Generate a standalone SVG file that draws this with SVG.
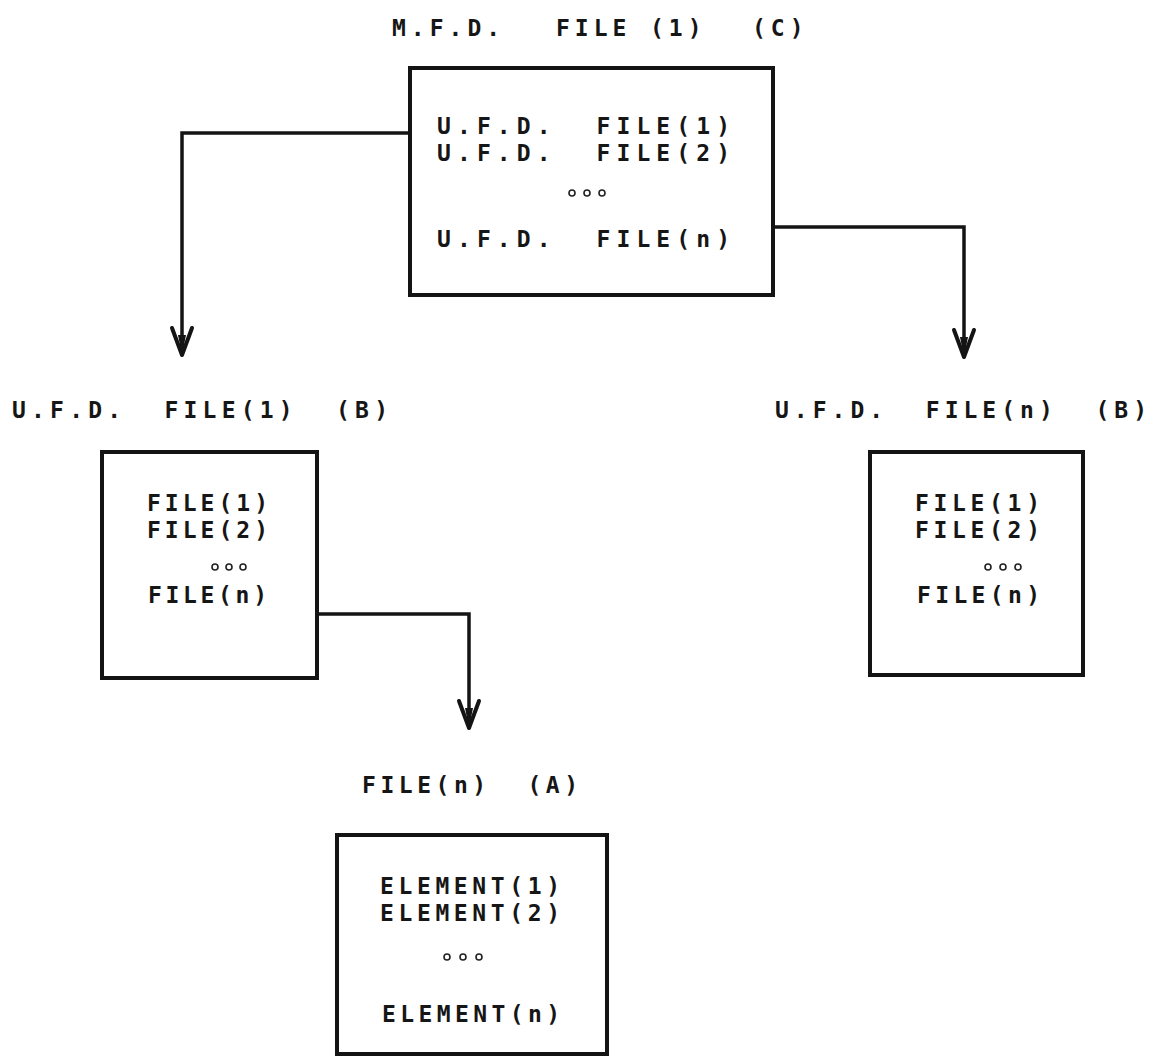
<svg xmlns="http://www.w3.org/2000/svg" width="1165" height="1057" viewBox="0 0 1165 1057">
  <style>
    .bg { fill: #ffffff; }
    .box { fill: none; stroke: #141414; stroke-width: 4; }
    .lbl { font-family: "DejaVu Sans Mono", "Liberation Mono", monospace; font-weight: bold; font-size: 23px; fill: #161616; white-space: pre; }
    .conn { fill: none; stroke: #141414; stroke-width: 3.5; }
    .dot { fill: none; stroke: #222; stroke-width: 1.6; }
  </style>
  <defs>
    <marker id="arr" viewBox="-32 -16 36 32" refX="0" refY="0" markerWidth="36" markerHeight="32" markerUnits="userSpaceOnUse" orient="auto">
      <path d="M-27,-10 L0,0 L-27,10" fill="none" stroke="#141414" stroke-width="4" stroke-linejoin="round" stroke-linecap="round"/>
      <path d="M-20,-4 L0,0 L-20,4 Z" fill="#141414"/>
    </marker>
  </defs>
  <rect class="bg" x="0" y="0" width="1165" height="1057"/>

  <g id="connectors">
    <path class="conn" d="M410,133 H182 V355" marker-end="url(#arr)"/>
    <path class="conn" d="M773,227 H964 V357" marker-end="url(#arr)"/>
    <path class="conn" d="M317,614 H469 V728" marker-end="url(#arr)"/>
  </g>

  <g id="mfd">
    <text class="lbl" y="36" letter-spacing="5"><tspan x="392">M.F.D.</tspan><tspan x="556">FILE</tspan><tspan x="650">(1)</tspan><tspan x="752">(C)</tspan></text>
    <rect class="box" x="410" y="68" width="363" height="227"/>
    <text class="lbl" x="437" y="134" textLength="293" lengthAdjust="spacing">U.F.D.  FILE(1)</text>
    <text class="lbl" x="437" y="161" textLength="293" lengthAdjust="spacing">U.F.D.  FILE(2)</text>
    <circle class="dot" cx="572" cy="193" r="3"/>
    <circle class="dot" cx="587" cy="193" r="3"/>
    <circle class="dot" cx="602" cy="193" r="3"/>
    <text class="lbl" x="437" y="247" textLength="293" lengthAdjust="spacing">U.F.D.  FILE(n)</text>
  </g>

  <g id="ufd1">
    <text class="lbl" x="12" y="418" textLength="376" lengthAdjust="spacing">U.F.D.  FILE(1)  (B)</text>
    <rect class="box" x="102" y="452" width="215" height="226"/>
    <text class="lbl" x="147" y="511" textLength="121" lengthAdjust="spacing">FILE(1)</text>
    <text class="lbl" x="147" y="538" textLength="121" lengthAdjust="spacing">FILE(2)</text>
    <circle class="dot" cx="215" cy="567" r="3"/>
    <circle class="dot" cx="229" cy="567" r="3"/>
    <circle class="dot" cx="243" cy="567" r="3"/>
    <text class="lbl" x="148" y="603" textLength="119" lengthAdjust="spacing">FILE(n)</text>
  </g>

  <g id="ufdn">
    <text class="lbl" x="775" y="418" textLength="372" lengthAdjust="spacing">U.F.D.  FILE(n)  (B)</text>
    <rect class="box" x="870" y="452" width="213" height="223"/>
    <text class="lbl" x="915" y="511" textLength="125" lengthAdjust="spacing">FILE(1)</text>
    <text class="lbl" x="915" y="538" textLength="125" lengthAdjust="spacing">FILE(2)</text>
    <circle class="dot" cx="988" cy="567" r="3"/>
    <circle class="dot" cx="1003" cy="567" r="3"/>
    <circle class="dot" cx="1018" cy="567" r="3"/>
    <text class="lbl" x="917" y="603" textLength="123" lengthAdjust="spacing">FILE(n)</text>
  </g>

  <g id="filen">
    <text class="lbl" x="362" y="793" textLength="216" lengthAdjust="spacing">FILE(n)  (A)</text>
    <rect class="box" x="337" y="835" width="270" height="219"/>
    <text class="lbl" x="380" y="894" textLength="180" lengthAdjust="spacing">ELEMENT(1)</text>
    <text class="lbl" x="380" y="921" textLength="180" lengthAdjust="spacing">ELEMENT(2)</text>
    <circle class="dot" cx="447" cy="957" r="3"/>
    <circle class="dot" cx="463" cy="957" r="3"/>
    <circle class="dot" cx="479" cy="957" r="3"/>
    <text class="lbl" x="382" y="1022" textLength="178" lengthAdjust="spacing">ELEMENT(n)</text>
  </g>
</svg>
